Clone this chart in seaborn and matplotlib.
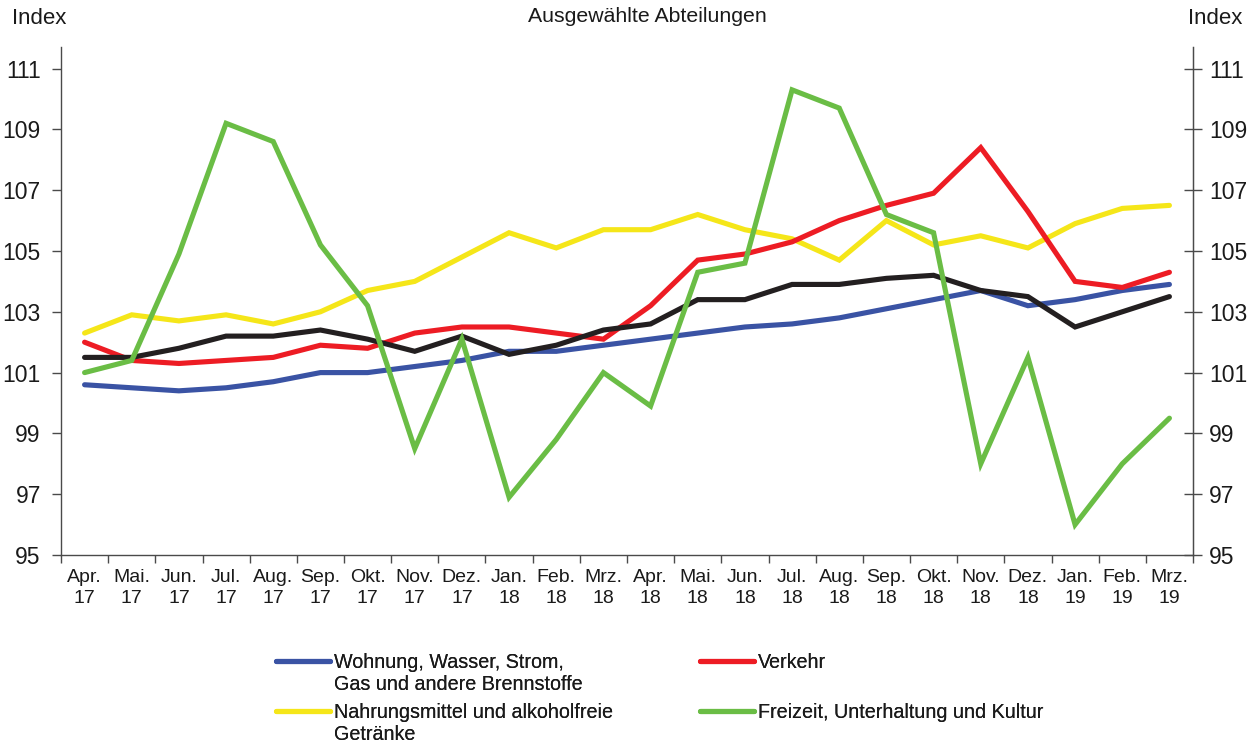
import matplotlib
matplotlib.use("Agg")
import matplotlib.pyplot as plt
from matplotlib.lines import Line2D
import seaborn as sns
import pandas as pd
import numpy as np

months = ["Apr.\n17", "Mai.\n17", "Jun.\n17", "Jul.\n17", "Aug.\n17", "Sep.\n17",
          "Okt.\n17", "Nov.\n17", "Dez.\n17", "Jan.\n18", "Feb.\n18", "Mrz.\n18",
          "Apr.\n18", "Mai.\n18", "Jun.\n18", "Jul.\n18", "Aug.\n18", "Sep.\n18",
          "Okt.\n18", "Nov.\n18", "Dez.\n18", "Jan.\n19", "Feb.\n19", "Mrz.\n19"]

wohnung = [100.6, 100.5, 100.4, 100.5, 100.7, 101.0, 101.0, 101.2, 101.4, 101.7, 101.7, 101.9,
           102.1, 102.3, 102.5, 102.6, 102.8, 103.1, 103.4, 103.7, 103.2, 103.4, 103.7, 103.9]
verkehr = [102.0, 101.4, 101.3, 101.4, 101.5, 101.9, 101.8, 102.3, 102.5, 102.5, 102.3, 102.1,
           103.2, 104.7, 104.9, 105.3, 106.0, 106.5, 106.9, 108.4, 106.3, 104.0, 103.8, 104.3]
nahrung = [102.3, 102.9, 102.7, 102.9, 102.6, 103.0, 103.7, 104.0, 104.8, 105.6, 105.1, 105.7,
           105.7, 106.2, 105.7, 105.4, 104.7, 106.0, 105.2, 105.5, 105.1, 105.9, 106.4, 106.5]
freizeit = [101.0, 101.4, 104.9, 109.2, 108.6, 105.2, 103.2, 98.5, 102.1, 96.9, 98.8, 101.0,
            99.9, 104.3, 104.6, 110.3, 109.7, 106.2, 105.6, 98.0, 101.5, 96.0, 98.0, 99.5]
insgesamt = [101.5, 101.5, 101.8, 102.2, 102.2, 102.4, 102.1, 101.7, 102.2, 101.6, 101.9, 102.4,
             102.6, 103.4, 103.4, 103.9, 103.9, 104.1, 104.2, 103.7, 103.5, 102.5, 103.0, 103.5]

yticks = [95, 97, 99, 101, 103, 105, 107, 109, 111]

series_names = ["Wohnung, Wasser, Strom,\nGas und andere Brennstoffe",
                "Verkehr",
                "Nahrungsmittel und alkoholfreie\nGetränke",
                "Freizeit, Unterhaltung und Kultur",
                "Insgesamt"]
colors = ["#3A53A4", "#ED1C24", "#F5E619", "#6ABD45", "#231F20"]

sns.set_style("ticks")
plt.rcParams['font.family'] = ['Liberation Sans', 'DejaVu Sans']

x = np.arange(len(months))
df = pd.DataFrame({
    "x": np.tile(x, 5),
    "value": wohnung + verkehr + nahrung + freizeit + insgesamt,
    "series": np.repeat(series_names, len(months)),
})

fig = plt.figure(figsize=(12.58, 7.46), dpi=100)
ax = fig.add_axes([61 / 1258, 1 - 555 / 746, (1193 - 61) / 1258, (555 - 47.3) / 746])

order = [series_names[i] for i in [2, 0, 1, 4, 3]]
pal = dict(zip(series_names, colors))
for name in order:
    sns.lineplot(data=df[df["series"] == name], x="x", y="value", color=pal[name],
                 linewidth=3.7, ax=ax, legend=False, solid_joinstyle="miter")

txt = "#1a1a1a"
axis_col = "#4a4a4a"
ax.set_xlim(-0.5, len(months) - 0.5)
ax.set_ylim(95, 111.7)
ax.set_yticks(yticks)
ax.set_yticklabels([str(v) for v in yticks], fontsize=16.5)
ax.set_xticks(x)
ax.set_xticklabels(months, fontsize=14, linespacing=1.32)
ax.set_xticks(np.arange(-0.5, len(months), 1), minor=True)
ax.tick_params(axis="x", which="major", length=0, pad=10, colors=txt)
ax.tick_params(axis="x", which="minor", length=6, width=1, direction="out", color=axis_col)
ax.tick_params(axis="y", which="major", length=6.5, width=1, direction="out", color=axis_col,
               pad=8, labelcolor=txt)
ax.set_xlabel("")
ax.set_ylabel("")
ax.spines["top"].set_visible(False)
for s in ["left", "bottom", "right"]:
    ax.spines[s].set_color(axis_col)
    ax.spines[s].set_linewidth(1)

ax2 = ax.twinx()
ax2.set_ylim(ax.get_ylim())
ax2.set_yticks(yticks)
ax2.set_yticklabels([str(v) for v in yticks], fontsize=16.5)
ax2.tick_params(axis="y", length=13, width=1, direction="inout", color=axis_col,
                pad=5, labelcolor=txt)
ax2.spines["top"].set_visible(False)
ax2.spines["right"].set_color(axis_col)
ax2.spines["left"].set_visible(False)
ax2.spines["bottom"].set_visible(False)

fig.text(12 / 1258, 1 - 18 / 746, "Index", fontsize=16, va="center", ha="left", color=txt)
fig.text(1188 / 1258, 1 - 18 / 746, "Index", fontsize=16, va="center", ha="left", color=txt)
fig.text(647 / 1258, 1 - 16 / 746, "Ausgewählte Abteilungen", fontsize=15.3, va="center",
         ha="center", color=txt)

blank = Line2D([], [], color="none")
def h(c):
    return Line2D([], [], color=c, linewidth=3.7)

entries = [
    (colors[0], ["Wohnung, Wasser, Strom,", "Gas und andere Brennstoffe"], 276, 653),
    (colors[2], ["Nahrungsmittel und alkoholfreie", "Getränke"], 276, 703),
    (colors[1], ["Verkehr"], 700, 653),
    (colors[3], ["Freizeit, Unterhaltung und Kultur"], 700, 703),
]
for col, lines, x0, y0 in entries:
    hs = [h(col)] + [blank] * (len(lines) - 1)
    lg = fig.legend(hs, lines, loc="upper left",
                    bbox_to_anchor=(x0 / 1258, 1 - y0 / 746),
                    frameon=False, fontsize=14.2, handlelength=2.75, handletextpad=0.2,
                    labelspacing=0.16, borderpad=0, borderaxespad=0)
    for t in lg.get_texts():
        t.set_color(txt)
    fig.add_artist(lg)

fig.savefig("out.png", dpi=100, facecolor="white")
